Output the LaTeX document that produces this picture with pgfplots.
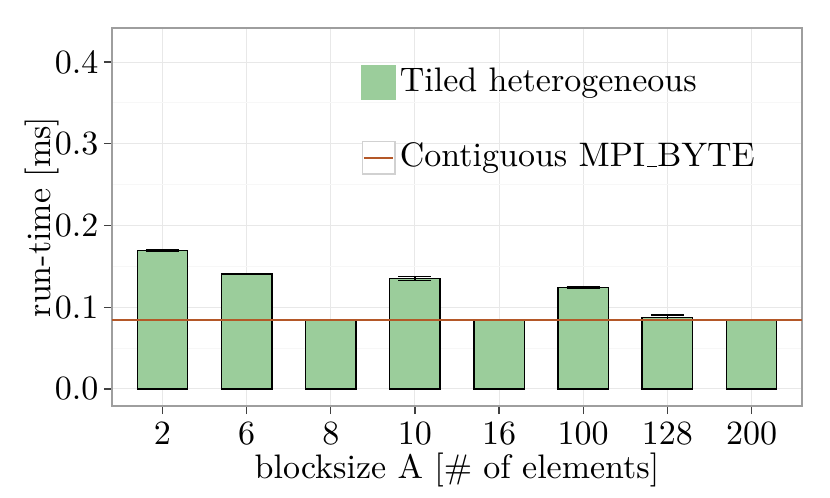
\documentclass[border=0pt]{standalone}
\usepackage{fontspec}
\setmainfont{lmroman10-regular.otf}
\usepackage{pgfplots}
\pgfplotsset{compat=1.18}
\definecolor{barfill}{RGB}{155,205,155}
\definecolor{linec}{RGB}{180,88,40}
\newcommand{\us}{\kern0.06em\rule{0.3em}{0.6pt}}
\begin{document}
\fontsize{17}{20}\selectfont
\begin{tikzpicture}
\begin{axis}[
  name=ax,
  scale only axis, width=345pt, height=189pt,
  xmin=-0.6, xmax=7.6, ymin=-0.0208, ymax=0.4416,
  xtick={0,...,7}, xticklabels={2,6,8,10,16,100,128,200},
  ytick={0,0.1,0.2,0.3,0.4}, minor ytick={0.05,0.15,0.25,0.35},
  /pgf/number format/fixed, /pgf/number format/fixed zerofill, /pgf/number format/precision=1,
  /pgf/number format/assume math mode=true,
  grid=both,
  major grid style={color=black!9, line width=0.5pt},
  minor grid style={color=black!3, line width=0.5pt},
  axis line style={black!38, line width=0.6pt},
  tick style={black!75, line width=0.6pt},
  major tick length=4pt, minor tick length=0pt,
  tick align=outside, tick pos=left,
  ticklabel style={font=\fontsize{17}{20}\selectfont},
  yticklabel style={xshift=3pt},
  xticklabel style={yshift=2pt},
  label style={font=\fontsize{17}{20}\selectfont},
  xlabel={blocksize A [\# of elements]},
  ylabel={run-time [ms]},
  xlabel style={at={(axis description cs:0.5,0)}, anchor=base, yshift=-36pt},
  ylabel style={at={([xshift=-30.5pt]axis description cs:0,0.5)}, anchor=base},
  legend style={draw=none, fill=none, at={(0.3605,0.905)}, anchor=north west,
    font=\fontsize{17}{20}\selectfont, row sep=19pt, inner sep=0pt,
    /tikz/every even column/.append style={column sep=2pt}},
  legend cell align=left,
]
\addplot[ybar, bar width=0.6, fill=barfill, draw=black, line width=0.7pt, forget plot,
  error bars/.cd, y dir=both, y explicit,
  error bar style={black, line width=0.7pt},
  error mark options={rotate=90, mark size=8.25pt, line width=0.7pt},
  ]
  coordinates {
  (0,0.1695) +- (0,0.0008)
  (1,0.1408) +- (0,0.0005)
  (2,0.0844) +- (0,0.0003)
  (3,0.1352) +- (0,0.0026)
  (4,0.0844) +- (0,0.0003)
  (5,0.1240) +- (0,0.0008)
  (6,0.0873) +- (0,0.0034)
  (7,0.0844) +- (0,0.0003)
  };
\addplot[linec, line width=0.8pt, forget plot] coordinates {(-0.6,0.0844) (7.6,0.0844)};
\addlegendimage{barfill, legend image code/.code={\fill[barfill] (0pt,-8.5pt) rectangle (17pt,8.5pt);}}
\addlegendentry{Tiled heterogeneous}
\addlegendimage{linec, line width=0.8pt, legend image code/.code={\draw[black!18, fill=white, line width=0.9pt] (0.45pt,-8.05pt) rectangle (16.55pt,8.05pt); \draw[draw=linec, line width=1pt] (1.2pt,0pt) -- (15.8pt,0pt);}}
\addlegendentry{Contiguous MPI\us BYTE}
\end{axis}
\useasboundingbox ([xshift=-56pt,yshift=-46pt]ax.south west) rectangle ([xshift=359pt,yshift=203pt]ax.south west);
\end{tikzpicture}
\end{document}
